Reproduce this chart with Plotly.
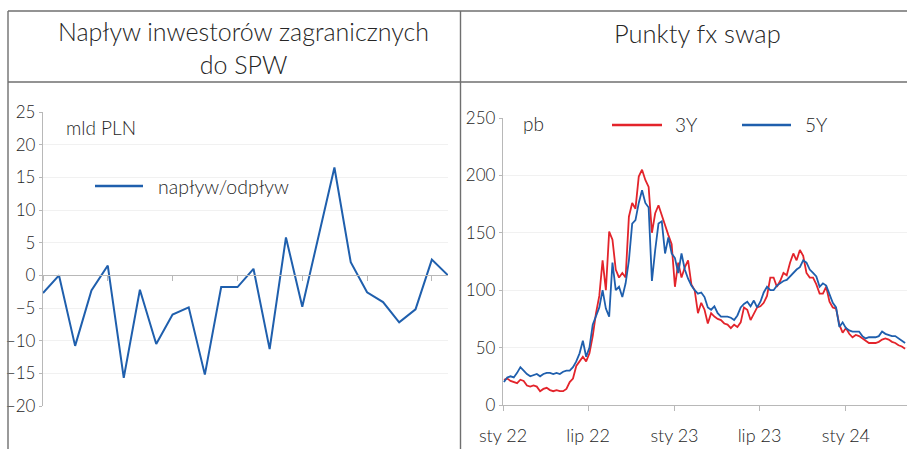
import pandas as pd
import plotly.graph_objects as go

W, H = 907, 449
FONT = "Lato"

# ---------------- data: left panel (quarterly flows, mld PLN) ----------------
flow_start = "2018-01-01"
flows = [-2.7, 0.0, -10.8, -2.3, 1.5, -15.7, -2.2, -10.5, -6.0, -4.9, -15.2, -1.8, -1.8,
         1.0, -11.3, 5.8, -4.8, 5.8, 16.5, 2.0, -2.6, -4.1, -7.2, -5.2, 2.4, 0.0]
flow_ticks = ["2018-01-01", "2019-01-01", "2020-01-01", "2021-01-01", "2022-01-01", "2023-01-01", "2024-01-01"]
flow_ticktext = ["sty 18", "sty 19", "sty 20", "sty 21", "sty 22", "sty 23", "sty 24"]

# ---------------- data: right panel (weekly fx swap points, pb) ----------------
swap_start = "2022-01-03"
swap_3y = [22, 23, 21, 20, 19, 22, 21, 17, 16, 17, 16, 12, 14, 15, 13, 12, 13, 12, 12, 14,
           20, 23, 34, 38, 42, 38, 45, 60, 80, 95, 126, 100, 151, 144, 118, 111, 115, 111, 164, 176,
           171, 199, 205, 196, 190, 150, 167, 174, 165, 155, 148, 140, 103, 124, 111, 120, 126, 105, 100, 80,
           89, 83, 71, 80, 77, 75, 74, 71, 70, 67, 70, 68, 72, 85, 83, 74, 80, 85, 86, 89,
           95, 111, 111, 103, 108, 115, 113, 124, 132, 126, 135, 130, 115, 111, 111, 105, 97, 97, 103, 90,
           85, 84, 70, 63, 67, 62, 59, 61, 60, 58, 56, 54, 54, 54, 55, 57, 58, 57, 55, 54,
           52, 51, 49]
swap_5y = [20, 24, 25, 24, 28, 33, 30, 27, 25, 26, 27, 25, 27, 28, 28, 27, 28, 27, 29, 30,
           30, 33, 38, 45, 56, 42, 50, 70, 78, 85, 100, 84, 77, 124, 100, 103, 94, 106, 126, 158,
           161, 176, 187, 176, 172, 108, 135, 158, 160, 132, 146, 132, 128, 115, 132, 118, 110, 104, 100, 97,
           98, 94, 85, 83, 86, 80, 77, 77, 77, 76, 74, 78, 85, 88, 90, 86, 91, 85, 90, 98,
           103, 100, 100, 104, 106, 108, 109, 112, 115, 118, 120, 126, 124, 118, 115, 112, 103, 106, 104, 97,
           89, 85, 68, 72, 67, 65, 64, 64, 64, 60, 58, 59, 59, 59, 60, 64, 62, 61, 60, 60,
           58, 56, 54]
swap_ticks = ["2022-01-01", "2022-07-01", "2023-01-01", "2023-07-01", "2024-01-01"]
swap_ticktext = ["sty 22", "lip 22", "sty 23", "lip 23", "sty 24"]

flow_dates = pd.date_range(flow_start, periods=len(flows), freq="QS")
swap_dates = pd.date_range(swap_start, periods=len(swap_3y), freq="7D")

BLUE = "#1f5fad"
RED = "#e3242b"
AXIS = "#b8b8b8"
GRID = "#f1f1f1"
TXT = "#262626"
BORDER = "#6f6f6f"
WEIGHT = 300


def px(x):
    return x / W


def py(y):
    return 1 - y / H


fig = go.Figure()
fig.add_trace(go.Scatter(x=flow_dates, y=flows, mode="lines", line=dict(color=BLUE, width=2),
                         xaxis="x", yaxis="y", showlegend=False))
fig.add_trace(go.Scatter(x=swap_dates, y=swap_3y, mode="lines", line=dict(color=RED, width=1.8),
                         xaxis="x2", yaxis="y2", showlegend=False, name="3Y"))
fig.add_trace(go.Scatter(x=swap_dates, y=swap_5y, mode="lines", line=dict(color=BLUE, width=1.8),
                         xaxis="x2", yaxis="y2", showlegend=False, name="5Y"))

left_dom = [px(43), px(448)]
left_ydom = [py(406), py(112)]
right_dom = [px(503), 1.0]
right_ydom = [py(405), py(118)]
zero_pos = left_ydom[0] + (0 - (-20)) / 45 * (left_ydom[1] - left_ydom[0])

tickfont = dict(family=FONT, size=17, color=TXT, weight=WEIGHT)
xtickfont = dict(family=FONT, size=18, color=TXT, weight=WEIGHT)

fig.update_layout(
    width=W, height=H,
    margin=dict(l=0, r=0, t=0, b=0, autoexpand=False),
    paper_bgcolor="white", plot_bgcolor="white",
    font=dict(family=FONT, color=TXT, weight=WEIGHT),
    xaxis=dict(domain=left_dom, anchor="free", position=zero_pos, type="date", automargin=False,
               range=["2018-01-01", "2024-04-01"], tickvals=flow_ticks, showticklabels=False,
               showline=True, linecolor=AXIS, linewidth=1.3, ticks="outside", ticklen=5,
               tickcolor=AXIS, showgrid=False, zeroline=False),
    xaxis3=dict(domain=left_dom, anchor="y", overlaying="x", type="date", automargin=False,
                range=["2018-01-01", "2024-04-01"], tickvals=flow_ticks, ticktext=flow_ticktext,
                tickfont=xtickfont, showline=False, ticks="", showgrid=False, zeroline=False,
                ticklabelstandoff=11),
    yaxis=dict(domain=left_ydom, anchor="x", range=[-20, 25], dtick=5, tickfont=tickfont,
               automargin=False,
               showline=True, linecolor=AXIS, linewidth=1.3, ticks="outside", ticklen=3,
               tickcolor=AXIS, showgrid=True, gridcolor=GRID, zeroline=False,
               ticklabelstandoff=0),
    xaxis2=dict(domain=right_dom, anchor="y2", type="date", automargin=False,
                range=["2022-01-01", "2024-05-10"], tickvals=swap_ticks, ticktext=swap_ticktext,
                tickfont=xtickfont, showline=True, linecolor=AXIS, linewidth=1.3,
                ticks="outside", ticklen=5, tickcolor=AXIS, showgrid=False, zeroline=False,
                ticklabelstandoff=9),
    yaxis2=dict(domain=right_ydom, anchor="x2", range=[0, 250], dtick=50, tickfont=tickfont,
                automargin=False,
                showline=True, linecolor=AXIS, linewidth=1.3, ticks="outside", ticklen=3,
                tickcolor=AXIS, showgrid=True, gridcolor=GRID, zeroline=False,
                ticklabelstandoff=0),
)

line = dict(color=BORDER, width=1.4)
shapes = [
    dict(type="line", xref="paper", yref="paper", x0=px(8), x1=px(8), y0=py(11), y1=0, line=line),
    dict(type="line", xref="paper", yref="paper", x0=px(8), x1=1, y0=py(11), y1=py(11), line=line),
    dict(type="line", xref="paper", yref="paper", x0=px(8), x1=1, y0=py(82), y1=py(82), line=line),
    dict(type="line", xref="paper", yref="paper", x0=px(460.5), x1=px(460.5), y0=py(11), y1=0, line=line),
    dict(type="line", xref="paper", yref="paper", x0=px(95), x1=px(143), y0=py(186), y1=py(186),
         line=dict(color=BLUE, width=2.5)),
    dict(type="line", xref="paper", yref="paper", x0=px(612), x1=px(662), y0=py(125), y1=py(125),
         line=dict(color=RED, width=2.5)),
    dict(type="line", xref="paper", yref="paper", x0=px(742), x1=px(791), y0=py(125), y1=py(125),
         line=dict(color=BLUE, width=2.5)),
]
fig.update_layout(shapes=shapes)

ann = []


def text(x, y, s, size, xanchor="left"):
    ann.append(dict(x=px(x), y=py(y), xref="paper", yref="paper", text=s, showarrow=False,
                    xanchor=xanchor, yanchor="middle",
                    font=dict(family=FONT, size=size, color=TXT, weight=WEIGHT)))


text(244, 47, "Napływ inwestorów zagranicznych<br>do SPW", 25, "center")
text(697, 33, "Punkty fx swap", 25.5, "center")
text(64, 127, "mld PLN", 19)
text(156, 186, "napływ/odpływ", 19.5)
text(521, 123, "pb", 19)
text(673, 125, "3Y", 19)
text(803, 125, "5Y", 19)
fig.update_layout(annotations=ann)

fig.write_html(
    "out.html",
    config={"displayModeBar": False},
    post_script="document.body.style.margin='0';document.body.style.overflow='hidden';",
)
